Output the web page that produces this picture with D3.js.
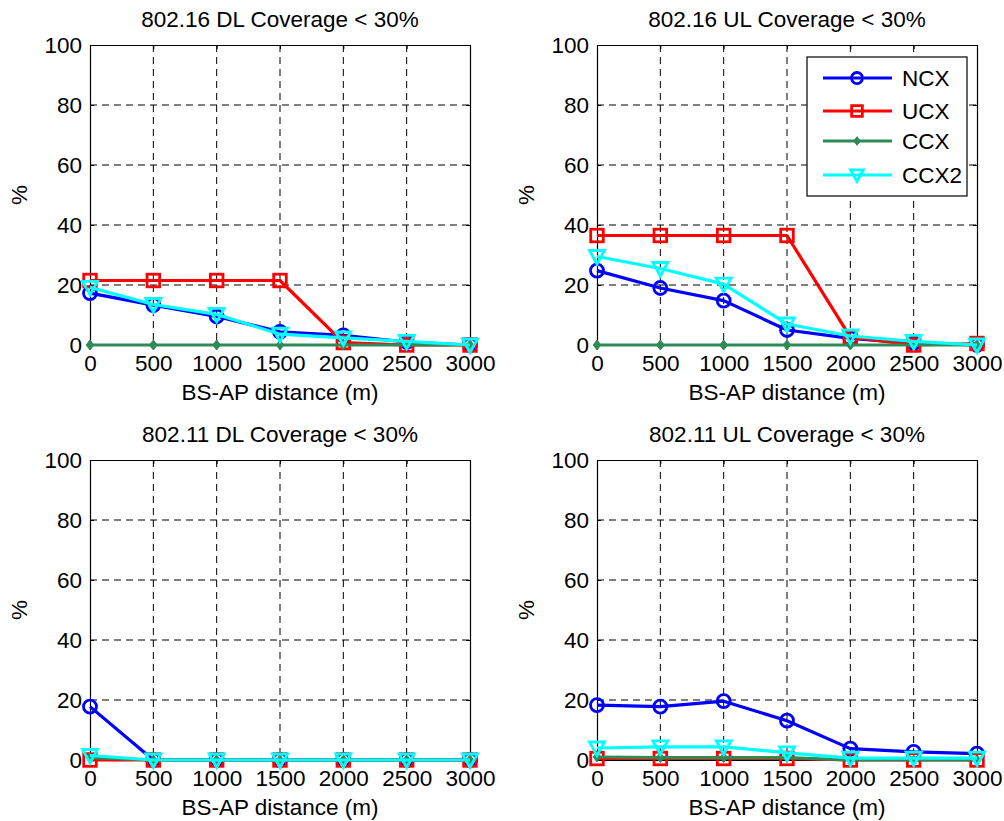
<!DOCTYPE html>
<html>
<head>
<meta charset="utf-8">
<script src="https://cdn.jsdelivr.net/npm/d3@7"></script>
<style>
  body { margin: 0; background: #fff; }
  svg { font-family: 'Liberation Sans', Arial, Helvetica, sans-serif; }
</style>
</head>
<body>
<div id="chart"></div>
<script>
const distances = [0, 500, 1000, 1500, 2000, 2500, 3000];
const yTicks = [0, 20, 40, 60, 80, 100];
const seriesNames = ['NCX', 'UCX', 'CCX', 'CCX2'];
const panelTitles = [
  '802.16 DL Coverage < 30%',
  '802.16 UL Coverage < 30%',
  '802.11 DL Coverage < 30%',
  '802.11 UL Coverage < 30%',
];

// 802.16 DL
const dl16Ncx = [17.3, 13.3, 9.5, 4.4, 3.2, 1.0, 0];
const dl16Ucx = [21.5, 21.5, 21.5, 21.5, 0.8, 0, 0];
const dl16Ccx = [0, 0, 0, 0, 0, 0, 0];
const dl16Ccx2 = [19.2, 13.5, 10.2, 3.6, 2.4, 1.2, 0];

// 802.16 UL
const ul16Ncx = [24.8, 19.0, 14.8, 5.0, 2.2, 0.6, 0];
const ul16Ucx = [36.5, 36.5, 36.5, 36.5, 2.6, 0, 0.5];
const ul16Ccx = [0, 0, 0, 0, 0, 0, 0];
const ul16Ccx2 = [29.5, 25.5, 20.3, 7.0, 3.0, 1.2, 0];

// 802.11 DL
const dl11Ncx = [17.8, 0, 0, 0, 0, 0, 0];
const dl11Ucx = [0, 0, 0, 0, 0, 0, 0];
const dl11Ccx = [0.8, 0, 0, 0, 0, 0, 0];
const dl11Ccx2 = [1.5, 0, 0, 0, 0, 0, 0];

// 802.11 UL
const ul11Ncx = [18.3, 17.8, 19.6, 13.1, 3.8, 2.7, 2.1];
const ul11Ucx = [0.5, 0.5, 0.5, 0.5, 0, 0, 0];
const ul11Ccx = [1.0, 0.8, 0.8, 0.8, 0, 0, 0];
const ul11Ccx2 = [4.0, 4.4, 4.4, 2.4, 0.6, 0.6, 0.6];

const colors = { NCX: '#0000ff', UCX: '#ff0000', CCX: '#2e8b57', CCX2: '#00ffff' };

const panels = [
  { title: panelTitles[0], left: 90, top: 45, series: [dl16Ncx, dl16Ucx, dl16Ccx, dl16Ccx2], legend: false },
  { title: panelTitles[1], left: 597, top: 45, series: [ul16Ncx, ul16Ucx, ul16Ccx, ul16Ccx2], legend: true },
  { title: panelTitles[2], left: 90, top: 460, series: [dl11Ncx, dl11Ucx, dl11Ccx, dl11Ccx2], legend: false },
  { title: panelTitles[3], left: 597, top: 460, series: [ul11Ncx, ul11Ucx, ul11Ccx, ul11Ccx2], legend: false },
];

const width = 380;
const height = 300;
const fontSize = 22.5;

const svg = d3.select('#chart')
  .append('svg')
  .attr('width', 1004)
  .attr('height', 821);

// marker drawing, s = scale factor
const drawMarker = (g, name, cx, cy, s) => {
  const c = colors[name];
  if (name === 'NCX') {
    g.append('circle').attr('cx', cx).attr('cy', cy).attr('r', 6.5 * s)
      .attr('fill', 'none').attr('stroke', c).attr('stroke-width', 2.8);
  } else if (name === 'UCX') {
    const h = 6.3 * s;
    g.append('rect').attr('x', cx - h).attr('y', cy - h)
      .attr('width', 2 * h).attr('height', 2 * h)
      .attr('fill', 'none').attr('stroke', c).attr('stroke-width', 2.8);
  } else if (name === 'CCX') {
    const w = 3.8 * s;
    const h = 5 * s;
    g.append('path')
      .attr('d', `M${cx},${cy - h}L${cx + w},${cy}L${cx},${cy + h}L${cx - w},${cy}Z`)
      .attr('fill', c).attr('stroke', c).attr('stroke-width', 1);
  } else {
    const w = 7.5 * s;
    g.append('path')
      .attr('d', `M${cx - w},${cy - 6 * s}L${cx + w},${cy - 6 * s}L${cx},${cy + 7.5 * s}Z`)
      .attr('fill', 'none').attr('stroke', c).attr('stroke-width', 2.8)
      .attr('stroke-linejoin', 'miter');
  }
};

panels.forEach((p) => {
  const g = svg.append('g').attr('transform', `translate(${p.left},${p.top})`);

  const x = d3.scaleLinear().domain([0, 3000]).range([0, width]);
  const y = d3.scaleLinear().domain([0, 100]).range([height, 0]);

  // grid
  g.append('g')
    .selectAll('line')
    .data(distances.slice(1, -1))
    .join('line')
    .attr('x1', (d) => x(d)).attr('x2', (d) => x(d))
    .attr('y1', 0).attr('y2', height)
    .attr('stroke', '#000').attr('stroke-width', 1)
    .attr('stroke-dasharray', '7,5');
  g.append('g')
    .selectAll('line')
    .data(yTicks.slice(1, -1))
    .join('line')
    .attr('y1', (d) => y(d)).attr('y2', (d) => y(d))
    .attr('x1', 0).attr('x2', width)
    .attr('stroke', '#000').attr('stroke-width', 1)
    .attr('stroke-dasharray', '7,5');

  // axes (inside ticks, box)
  const xAxis = g.append('g')
    .attr('transform', `translate(0,${height})`)
    .call(d3.axisBottom(x).tickValues(distances).tickFormat(d3.format('d'))
      .tickSizeInner(-4).tickSizeOuter(0).tickPadding(10));
  const yAxis = g.append('g')
    .call(d3.axisLeft(y).tickValues(yTicks).tickFormat(d3.format('d'))
      .tickSizeInner(-4).tickSizeOuter(0).tickPadding(8));
  g.append('g')
    .call(d3.axisTop(x).tickValues(distances).tickSizeInner(-4).tickSizeOuter(0).tickFormat(''));
  g.append('g')
    .attr('transform', `translate(${width},0)`)
    .call(d3.axisRight(y).tickValues(yTicks).tickSizeInner(-4).tickSizeOuter(0).tickFormat(''));

  g.selectAll('.domain').attr('stroke', '#000').attr('stroke-width', 1.2);
  g.selectAll('.tick line').attr('stroke', '#000');
  [xAxis, yAxis].forEach((a) => a.selectAll('text')
    .attr('font-size', fontSize)
    .attr('font-family', "'Liberation Sans', Arial, sans-serif")
    .attr('fill', '#000'));
  xAxis.selectAll('text').attr('dy', '0.72em').attr('y', 10);

  // titles
  g.append('text')
    .attr('x', width / 2).attr('y', -18)
    .attr('text-anchor', 'middle')
    .attr('font-size', fontSize)
    .text(p.title);
  g.append('text')
    .attr('x', width / 2).attr('y', height + 55)
    .attr('text-anchor', 'middle')
    .attr('font-size', fontSize)
    .text('BS-AP distance (m)');
  g.append('text')
    .attr('transform', `translate(${-63},${height / 2}) rotate(-90)`)
    .attr('text-anchor', 'middle')
    .attr('font-size', fontSize)
    .text('%');

  // series
  const line = d3.line().x((d) => x(d[0])).y((d) => y(d[1]));
  seriesNames.forEach((name, i) => {
    const pts = distances.map((d, j) => [d, p.series[i][j]]);
    const sg = g.append('g');
    sg.append('path')
      .datum(pts)
      .attr('d', line)
      .attr('fill', 'none')
      .attr('stroke', colors[name])
      .attr('stroke-width', 3.2)
      .attr('stroke-linejoin', 'round');
    pts.forEach((d) => drawMarker(sg, name, x(d[0]), y(d[1]), 1));
  });

  if (p.legend) {
    const lg = g.append('g').attr('transform', `translate(${807 - p.left},${57 - p.top})`);
    lg.append('rect')
      .attr('width', 160).attr('height', 139)
      .attr('fill', '#fff').attr('stroke', '#000').attr('stroke-width', 1.2);
    const rowY = [21, 54, 84, 118];
    seriesNames.forEach((name, i) => {
      lg.append('line')
        .attr('x1', 16).attr('x2', 85)
        .attr('y1', rowY[i]).attr('y2', rowY[i])
        .attr('stroke', colors[name]).attr('stroke-width', 3.2);
      drawMarker(lg, name, 50, rowY[i], 0.85);
      lg.append('text')
        .attr('x', 95).attr('y', rowY[i])
        .attr('dy', '0.36em')
        .attr('font-size', fontSize)
        .text(name);
    });
  }
});
</script>
</body>
</html>
